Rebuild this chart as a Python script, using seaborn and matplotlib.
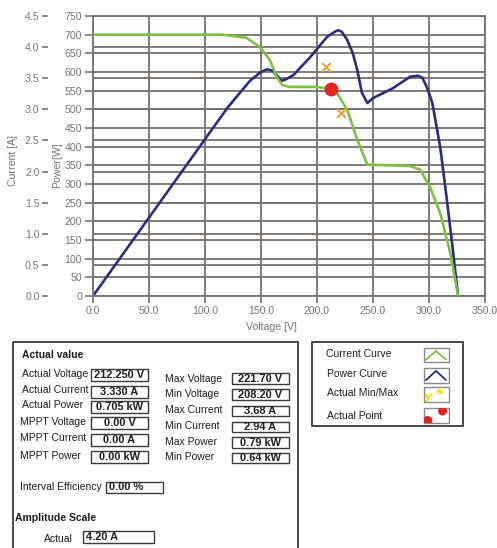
import matplotlib
matplotlib.use("Agg")
import matplotlib.pyplot as plt
from matplotlib.patches import Rectangle, Circle
import numpy as np
import pandas as pd
import seaborn as sns

sns.set_theme(style="white")
plt.rcParams["font.family"] = ["Liberation Sans", "DejaVu Sans"]

# ---- I-V curve (current vs. voltage) ----
iv_voltage = [0, 115, 128, 137, 149, 158, 164, 169, 176, 200, 212, 218, 227, 236,
              245, 283, 292, 301, 310, 319, 326]
iv_current = [4.20, 4.20, 4.17, 4.15, 4.00, 3.79, 3.52, 3.39, 3.36, 3.36, 3.33, 3.26,
              2.99, 2.51, 2.11, 2.09, 2.03, 1.75, 1.33, 0.69, 0.00]

# ---- P-V curve (power vs. voltage) ----
pv_voltage = [0, 50, 100, 120, 130, 140, 149, 155, 160, 164, 168, 172, 179, 194,
              209, 216, 219, 222, 227, 232, 236, 240, 245, 250, 268, 283, 290, 294,
              298, 303, 310, 316, 321, 326]
pv_power = [0, 210, 420, 504, 540, 576, 598, 607, 604, 592, 576, 580, 592, 640,
            694, 708, 712, 708, 686, 650, 605, 545, 517, 530, 557, 587, 590, 585,
            560, 517, 399, 257, 131, 0]

# ---- operating point and min / max markers ----
minmax_voltage = [208.20, 221.70]
minmax_current = [3.68, 2.94]
actual_voltage = [212.25]
actual_current = [3.33]

# ---- axis ticks ----
voltage_ticks = [0, 50, 100, 150, 200, 250, 300, 350]
power_ticks = list(range(0, 751, 50))
current_ticks = [0.0, 0.5, 1.0, 1.5, 2.0, 2.5, 3.0, 3.5, 4.0, 4.5]

# ---- measurement panel ----
left_labels = ["Actual Voltage", "Actual Current", "Actual Power",
               "MPPT Voltage", "MPPT Current", "MPPT Power"]
left_values = ["212.250 V", "3.330 A", "0.705 kW", "0.00 V", "0.00 A", "0.00 kW"]
right_labels = ["Max Voltage", "Min Voltage", "Max Current",
                "Min Current", "Max Power", "Min Power"]
right_values = ["221.70 V", "208.20 V", "3.68 A", "2.94 A", "0.79 kW", "0.64 kW"]
efficiency_value = "0.00 %"
amplitude_value = "4.20 A"
legend_labels = ["Current Curve", "Power Curve", "Actual Min/Max", "Actual Point"]

GREEN = "#7dc142"
NAVY = "#2b2a85"
GRID = "#77716c"
TICK_TXT = "#767676"
TICK_FS = 7.6
LAB_FS = 7.5

W, H = 497, 548
fig = plt.figure(figsize=(W / 100, H / 100), dpi=100)
fig.patch.set_facecolor("white")

rect = [93 / W, 1 - 296 / H, 392 / W, 280 / H]

# bottom layer: voltage grid, current-scale grid, x and current tick labels
ax_cg = fig.add_axes(rect)
ax_cg.set_zorder(0)
# middle layer: power scale and the power curve
ax = ax_cg.twinx()
ax.set_zorder(1)
ax.patch.set_visible(False)
# top layer: current curve and markers
ax_i = ax_cg.twinx()
ax_i.set_zorder(2)
ax_i.patch.set_visible(False)

for a in (ax_cg, ax, ax_i):
    a.set_xlim(0, 350)
    for s in a.spines.values():
        s.set_visible(False)

ax_cg.set_ylim(0, 4.5)
ax_i.set_ylim(0, 4.5)
ax.set_ylim(0, 750)

# voltage axis and grids on the bottom layer
ax_cg.set_xticks(voltage_ticks)
ax_cg.set_xticklabels([f"{t:.1f}" for t in voltage_ticks])
ax_cg.tick_params(axis="x", bottom=True, length=5, width=1.2, color=GRID, pad=2,
                  labelsize=TICK_FS, labelcolor=TICK_TXT)
ax_cg.set_yticks(current_ticks)
ax_cg.grid(True, axis="both", color=GRID, lw=1.3)

# power grid and frame
ax.set_yticks(power_ticks)
ax.grid(True, axis="y", color=GRID, lw=1.3)
for s in ax.spines.values():
    s.set_visible(True)
    s.set_color(GRID)
    s.set_linewidth(1.3)

# power axis on the left
ax.yaxis.tick_left()
ax.set_yticklabels([str(t) for t in power_ticks])
ax.tick_params(axis="y", left=True, right=False, length=6, width=1.2,
               color=TICK_TXT, pad=2, labelsize=TICK_FS, labelcolor=TICK_TXT,
               labelleft=True, labelright=False)

# current axis further out on the left
ax_cg.yaxis.tick_left()
ax_cg.spines["left"].set_position(("outward", 32.5))
ax_cg.set_yticklabels([f"{t:.1f}" for t in current_ticks])
ax_cg.tick_params(axis="y", left=True, length=4, width=1.2, color=TICK_TXT, pad=2,
                  labelsize=TICK_FS, labelcolor=TICK_TXT)
ax_i.set_yticks([])

# curves
sns.lineplot(x=pv_voltage, y=pv_power, ax=ax, color=NAVY, lw=1.9, sort=False)
sns.lineplot(x=iv_voltage, y=iv_current, ax=ax_i, color=GREEN, lw=1.9, sort=False)
sns.scatterplot(x=minmax_voltage, y=minmax_current, ax=ax_i, marker="x",
                color="#f2a33a", s=40, linewidth=1.6, zorder=5)
sns.scatterplot(x=actual_voltage, y=actual_current, ax=ax_i, marker="o",
                color="#e52421", s=100, linewidth=0, zorder=6)
ax_i.set_ylabel("")
ax.set_ylabel("")
ax.set_xlabel("")

# axis titles
fig.text(271 / W, 1 - 327 / H, "Voltage [V]", ha="center", va="center",
         fontsize=TICK_FS, color=TICK_TXT)
fig.text(13 / W, 1 - 160 / H, "Current [A]", ha="center", va="center",
         rotation=90, fontsize=TICK_FS, color=TICK_TXT)
fig.text(57 / W, 1 - 165 / H, "Power[W]", ha="center", va="center",
         rotation=90, fontsize=TICK_FS, color=TICK_TXT)

# ---- overlay in pixel coordinates for the panels ----
ov = fig.add_axes([0, 0, 1, 1])
ov.set_zorder(5)
ov.patch.set_visible(False)
ov.set_xlim(0, W)
ov.set_ylim(H, 0)
ov.axis("off")

TXT = "#1e1e1e"
BOX = "#3a3a3a"
VAL_FS = 7.9

# measurement panel frame (runs past the lower edge)
ov.add_patch(Rectangle((13, 342), 285, 230, fill=False, ec=BOX, lw=1.3))
ov.text(22, 355, "Actual value", fontsize=LAB_FS, fontweight="bold", color=TXT,
        va="center", ha="left")

left_rows = [374, 390, 405, 422, 438, 456]
left_boxes = [369, 386, 401, 417, 434, 451]
for lab, val, yc, yb in zip(left_labels, left_values, left_rows, left_boxes):
    x0 = 22 if lab.startswith("Actual") else 20
    ov.text(x0, yc, lab, fontsize=LAB_FS, color=TXT, va="center", ha="left")
    ov.add_patch(Rectangle((91, yb), 57, 11.5, fill=False, ec=BOX, lw=1.0))
    ov.text(119.5, yb + 6, val, fontsize=VAL_FS, fontweight="bold", color=TXT,
            va="center", ha="center")

right_rows = [379, 394, 410, 426, 442, 457]
right_boxes = [373, 389, 405.5, 421.5, 437, 452.5]
for lab, val, yc, yb in zip(right_labels, right_values, right_rows, right_boxes):
    ov.text(165, yc, lab, fontsize=LAB_FS, color=TXT, va="center", ha="left")
    ov.add_patch(Rectangle((232, yb), 57, 10.5, fill=False, ec=BOX, lw=1.0))
    ov.text(260.5, yb + 5.5, val, fontsize=VAL_FS, fontweight="bold", color=TXT,
            va="center", ha="center")

ov.text(20, 487, "Interval Efficiency", fontsize=LAB_FS, color=TXT, va="center",
        ha="left")
ov.add_patch(Rectangle((106, 481.5), 57, 11.5, fill=False, ec=BOX, lw=1.0))
ov.text(109, 487.5, efficiency_value, fontsize=VAL_FS, fontweight="bold", color=TXT,
        va="center", ha="left")

ov.text(15, 518, "Amplitude Scale", fontsize=LAB_FS, fontweight="bold", color=TXT,
        va="center", ha="left")
ov.text(44, 539, "Actual", fontsize=LAB_FS, color=TXT, va="center", ha="left")
ov.add_patch(Rectangle((83, 531), 71, 12, fill=False, ec=BOX, lw=1.0))
ov.text(86, 537, amplitude_value, fontsize=VAL_FS, fontweight="bold", color=TXT,
        va="center", ha="left")

# legend panel
ov.add_patch(Rectangle((312, 342), 151, 84, fill=False, ec=BOX, lw=1.3))
legend_rows = [354, 374, 393.5, 416]
legend_x = [325.5, 327, 327, 327]
icon_boxes = [(348, 14), (368, 14.5), (387, 15), (408, 15)]
for lab, yc, xc in zip(legend_labels, legend_rows, legend_x):
    ov.text(xc, yc, lab, fontsize=LAB_FS, color=TXT, va="center", ha="left")
for yb, hb in icon_boxes:
    ov.add_patch(Rectangle((423.5, yb), 25, hb, fill=False, ec="#8a8a8a", lw=1.0))

# icon glyphs
ov.plot([426, 436, 446], [359.5, 351, 359.5], color=GREEN, lw=1.3)
ov.plot([426, 436, 446], [380, 371, 380], color=NAVY, lw=1.3)
ov.plot([426, 428.5, 431], [394, 397, 394], color="#f5e400", lw=1.4)
ov.plot([426, 428.5, 426], [396, 398.5, 401], color="#f5e400", lw=1.4)
ov.plot([437, 439.5, 442], [392.5, 389.5, 392.5], color="#f5e400", lw=1.4)
ov.plot([439.5, 439.5], [389.5, 394], color="#f5e400", lw=1.4)
clip = Rectangle((423.5, 408), 25, 15, transform=ov.transData)
c1 = Circle((427.5, 421), 5, color="#e52421", lw=0)
c2 = Circle((442.5, 411), 4.5, color="#e52421", lw=0)
for c in (c1, c2):
    ov.add_patch(c)
    c.set_clip_path(clip)

fig.savefig("out.png", dpi=100, facecolor="white")
